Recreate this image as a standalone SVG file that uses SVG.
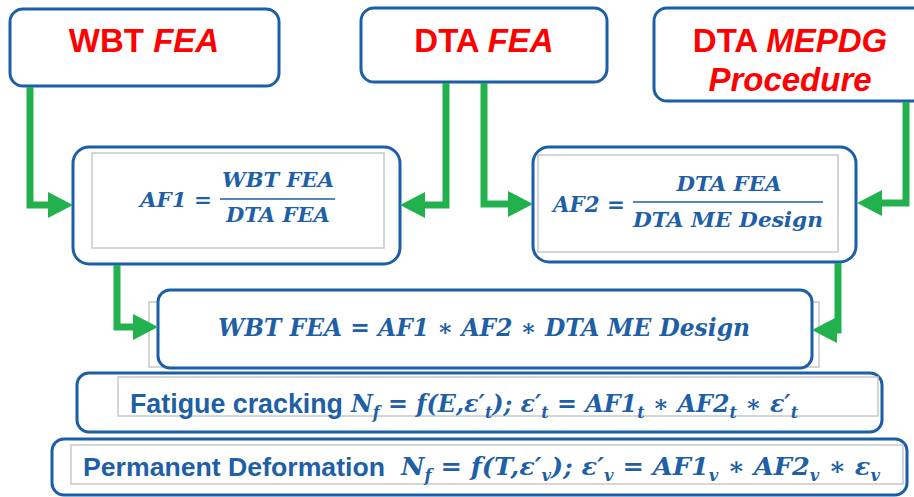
<svg xmlns="http://www.w3.org/2000/svg" width="914" height="497" viewBox="0 0 914 497">
<style>
.box{fill:#fff;stroke:#1c5fa8;stroke-width:3}
.inner{fill:none;stroke:#c8c8c8;stroke-width:1.5}
.lbl{font-family:"Liberation Sans",Arial,sans-serif;font-weight:bold;font-size:33px;fill:#ff0000;text-anchor:middle}
.it{font-style:italic}
.math{font-family:"DejaVu Serif","Liberation Serif",serif;font-weight:bold;font-style:italic;fill:#1e5fa6}
.sans{font-family:"Liberation Sans",Arial,sans-serif;font-weight:bold;fill:#1e5fa6}
.conn{fill:none;stroke:#23b14d;stroke-width:7;stroke-linejoin:miter}
.fl{stroke:#1e5fa6;stroke-width:1.5}
</style>
<defs>
<marker id="ah" viewBox="0 0 25 26" refX="0" refY="13" markerWidth="25" markerHeight="26" markerUnits="userSpaceOnUse" orient="auto">
<path d="M0 0 L25 13 L0 26 Z" fill="#23b14d"/>
</marker>
</defs>
<rect width="914" height="497" fill="#fff"/>

<g id="wbt-fea">
<rect class="box" x="10" y="9" width="269" height="77" rx="13"/>
<text class="lbl" x="144" y="52">WBT <tspan class="it">FEA</tspan></text>
</g>
<g id="dta-fea">
<rect class="box" x="361" y="8" width="246" height="74" rx="13"/>
<text class="lbl" x="484" y="52">DTA <tspan class="it">FEA</tspan></text>
</g>
<g id="dta-mepdg">
<rect class="box" x="654" y="8" width="272" height="93" rx="13"/>
<text class="lbl" x="790" y="52">DTA <tspan class="it">MEPDG</tspan></text>
<text class="lbl it" x="790" y="91">Procedure</text>
</g>

<g id="af1">
<rect class="box" x="73" y="147" width="327" height="117" rx="16"/>
<rect class="inner" x="92" y="153" width="292" height="95"/>
<text class="math" x="140" y="207" font-size="21" textLength="72" lengthAdjust="spacingAndGlyphs">AF1 =</text>
<text class="math" x="278" y="187" font-size="21" text-anchor="middle" textLength="112" lengthAdjust="spacingAndGlyphs">WBT FEA</text>
<line class="fl" x1="220" y1="199" x2="335" y2="199"/>
<text class="math" x="278" y="222" font-size="21" text-anchor="middle" textLength="104" lengthAdjust="spacingAndGlyphs">DTA FEA</text>
</g>

<g id="af2">
<rect class="box" x="533" y="147" width="323" height="115" rx="16"/>
<rect class="inner" x="538" y="155" width="300" height="97"/>
<text class="math" x="553" y="212" font-size="23" textLength="72" lengthAdjust="spacingAndGlyphs">AF2 =</text>
<text class="math" x="729" y="191" font-size="21" text-anchor="middle" textLength="105" lengthAdjust="spacingAndGlyphs">DTA FEA</text>
<line class="fl" x1="633" y1="202" x2="823" y2="202"/>
<text class="math" x="728" y="227" font-size="21" text-anchor="middle" textLength="190" lengthAdjust="spacingAndGlyphs">DTA ME Design</text>
</g>

<g id="result">
<rect class="inner" x="149" y="302" width="670" height="65"/>
<rect class="box" x="158" y="290" width="654" height="78" rx="12"/>
<text class="math" x="218" y="336" font-size="24" textLength="532" lengthAdjust="spacingAndGlyphs">WBT FEA = AF1 ∗ AF2 ∗ DTA ME Design</text>
</g>

<g id="fatigue">
<rect class="box" x="77" y="373" width="805" height="59" rx="12"/>
<rect class="inner" x="118" y="377" width="760" height="39"/>
<text class="sans" x="130" y="413" font-size="27" textLength="213" lengthAdjust="spacingAndGlyphs">Fatigue cracking</text>
<text class="math" x="351" y="412" font-size="24" textLength="447" lengthAdjust="spacingAndGlyphs">N<tspan font-size="16" dy="6">f</tspan><tspan dy="-6"> = f(E,ε′</tspan><tspan font-size="16" dy="6">t</tspan><tspan dy="-6">); ε′</tspan><tspan font-size="16" dy="6">t</tspan><tspan dy="-6"> = AF1</tspan><tspan font-size="16" dy="6">t</tspan><tspan dy="-6"> ∗ AF2</tspan><tspan font-size="16" dy="6">t</tspan><tspan dy="-6"> ∗ ε′</tspan><tspan font-size="16" dy="6">t</tspan></text>
</g>

<g id="permanent">
<rect class="box" x="52" y="439" width="855" height="56" rx="12"/>
<rect class="inner" x="71" y="445" width="832" height="39"/>
<text class="sans" x="83" y="476" font-size="26" textLength="302" lengthAdjust="spacingAndGlyphs">Permanent Deformation</text>
<text class="math" x="401" y="475" font-size="25" textLength="479" lengthAdjust="spacingAndGlyphs">N<tspan font-size="16" dy="6">f</tspan><tspan dy="-6"> = f(T,ε′</tspan><tspan font-size="16" dy="6">v</tspan><tspan dy="-6">); ε′</tspan><tspan font-size="16" dy="6">v</tspan><tspan dy="-6"> = AF1</tspan><tspan font-size="16" dy="6">v</tspan><tspan dy="-6"> ∗ AF2</tspan><tspan font-size="16" dy="6">v</tspan><tspan dy="-6"> ∗ ε</tspan><tspan font-size="16" dy="6">v</tspan></text>
</g>

<g id="connectors">
<path class="conn" d="M30 87 V205 H48" marker-end="url(#ah)"/>
<path class="conn" d="M446 83 V205 H425" marker-end="url(#ah)"/>
<path class="conn" d="M484 83 V204 H508" marker-end="url(#ah)"/>
<path class="conn" d="M906 102 V203 H882" marker-end="url(#ah)"/>
<path class="conn" d="M117 265 V327 H133" marker-end="url(#ah)"/>
<path class="conn" d="M838 263 V330 H837" marker-end="url(#ah)"/>
</g>
</svg>
